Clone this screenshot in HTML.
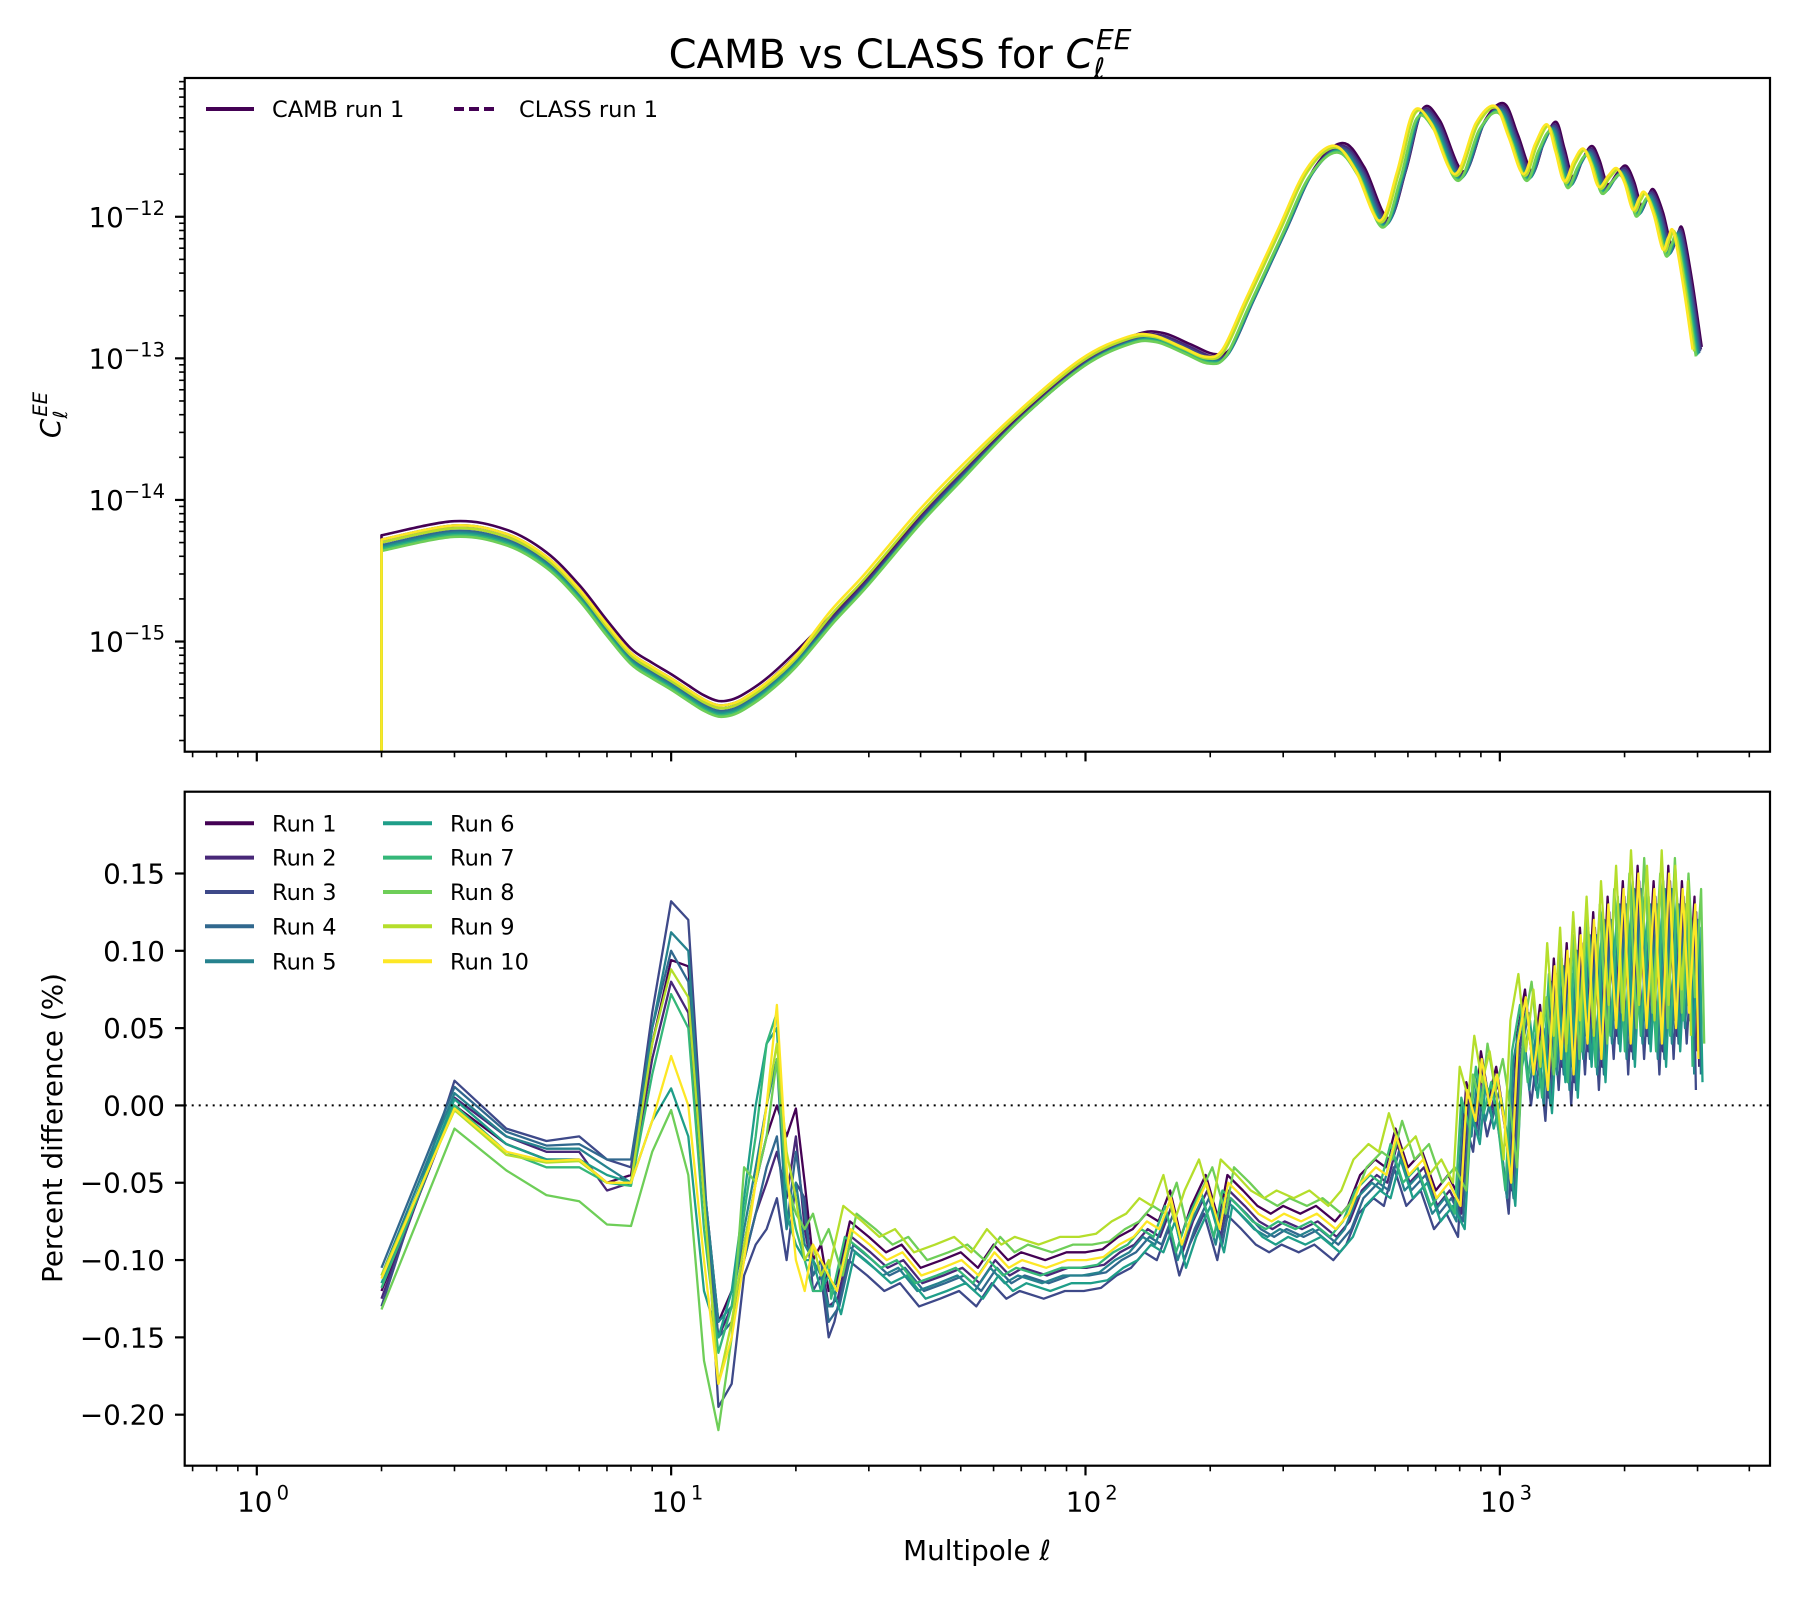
<!DOCTYPE html>
<html><head><meta charset="utf-8"><title>CAMB vs CLASS for C_l^EE</title>
<style>
html,body{margin:0;padding:0;background:#fff;}
svg{display:block;font-family:"DejaVu Sans","Liberation Sans",sans-serif;}
</style></head>
<body>
<svg id="chart" width="1800" height="1600" viewBox="0 0 1800 1600" xmlns="http://www.w3.org/2000/svg">
<rect x="0" y="0" width="1800" height="1600" fill="#fff"/>
<text x="900" y="68" text-anchor="middle" font-size="40">CAMB vs CLASS for <tspan font-style="italic">C</tspan><tspan font-style="italic" font-size="28" dy="10">ℓ</tspan><tspan font-style="italic" font-size="28" dx="-9" dy="-29">EE</tspan></text>
<g id="topPanel"></g>
<g id="botPanel"></g>
</svg>
<script>
// ---- data ----
const runLabels = ["Run 1","Run 2","Run 3","Run 4","Run 5","Run 6","Run 7","Run 8","Run 9","Run 10"];
const runColors = ["#440154","#482878","#3e4989","#31688e","#26828e","#1f9e89","#35b779","#6ece58","#b5de2b","#fde725"];
// upper panel base spectrum (ell, log10 Cl)
const clEll = [2,3,4,5,6,7,8,9,10,11,12,13,14,15,17,20,25,30,40,50,70,100,130,150,175,200,220,250,300,350,408,460,526,580,636,700,800,900,1000,1080,1170,1250,1335,1400,1470,1550,1630,1700,1780,1880,1970,2060,2150,2230,2300,2420,2540,2620,2700,2850,3000];
const clLog = [-14.3,-14.2,-14.26,-14.42,-14.65,-14.9,-15.1,-15.2,-15.28,-15.36,-15.43,-15.47,-15.46,-15.42,-15.31,-15.12,-14.8,-14.55,-14.12,-13.82,-13.4,-13.02,-12.86,-12.85,-12.93,-13.0,-12.95,-12.6,-12.1,-11.68,-11.51,-11.68,-12.04,-11.7,-11.27,-11.35,-11.71,-11.35,-11.23,-11.45,-11.71,-11.5,-11.36,-11.55,-11.76,-11.62,-11.53,-11.63,-11.8,-11.72,-11.67,-11.78,-11.96,-11.88,-11.84,-12.0,-12.24,-12.16,-12.12,-12.5,-12.95];
const clRunShift = [0.010,0.008,0.006,0.004,0.002,0.0,-0.002,-0.004,-0.008,-0.012];
const clRunOffset = [0.05,0.02,0.0,-0.02,-0.03,-0.04,-0.05,-0.06,0.0,0.02];
// lower panel: low-ell values (ell 2..24) per run
const lowEll = [2,3,4,5,6,7,8,9,10,11,12,13,14,15,16,17,18,19,20,21,22,23,24];
const lowRun1 = [-0.12,0.0,-0.025,-0.035,-0.035,-0.05,-0.045,0.04,0.094,0.09,-0.05,-0.14,-0.12,-0.09,-0.05,-0.02,0.0,-0.02,-0.002,-0.05,-0.1,-0.09,-0.12];
const lowRun2 = [-0.125,0.005,-0.02,-0.03,-0.03,-0.055,-0.05,0.03,0.08,0.06,-0.06,-0.15,-0.13,-0.1,-0.07,-0.05,-0.03,-0.06,-0.02,-0.08,-0.11,-0.1,-0.13];
const lowRun3 = [-0.13,0.016,-0.015,-0.023,-0.02,-0.035,-0.04,0.06,0.132,0.12,-0.04,-0.195,-0.18,-0.11,-0.09,-0.08,-0.06,-0.1,-0.05,-0.06,-0.12,-0.11,-0.15];
const lowRun4 = [-0.105,0.012,-0.017,-0.026,-0.025,-0.035,-0.035,0.05,0.1,0.08,-0.06,-0.15,-0.14,-0.1,-0.07,-0.04,-0.02,-0.08,-0.03,-0.07,-0.11,-0.1,-0.14];
const lowRun5 = [-0.11,0.008,-0.02,-0.028,-0.028,-0.04,-0.05,0.05,0.112,0.1,-0.05,-0.14,-0.13,-0.08,-0.04,0.0,0.03,-0.08,-0.05,-0.09,-0.1,-0.11,-0.13];
const lowRun6 = [-0.115,0.004,-0.025,-0.035,-0.035,-0.045,-0.05,-0.01,0.011,-0.02,-0.12,-0.15,-0.12,-0.06,0.0,0.04,0.05,-0.07,-0.09,-0.1,-0.1,-0.12,-0.11];
const lowRun7 = [-0.118,0.0,-0.03,-0.04,-0.04,-0.05,-0.052,0.02,0.072,0.05,-0.08,-0.16,-0.13,-0.07,-0.02,0.04,0.06,-0.05,-0.08,-0.1,-0.12,-0.12,-0.1];
const lowRun8 = [-0.132,-0.015,-0.042,-0.058,-0.062,-0.077,-0.078,-0.03,-0.003,-0.045,-0.165,-0.21,-0.15,-0.04,-0.05,-0.02,0.03,-0.05,-0.07,-0.08,-0.07,-0.09,-0.08];
const lowRun9 = [-0.11,-0.003,-0.032,-0.037,-0.036,-0.05,-0.05,0.04,0.088,0.07,-0.06,-0.18,-0.14,-0.09,-0.05,0.0,0.04,-0.03,-0.06,-0.1,-0.09,-0.11,-0.1];
const lowRun10 = [-0.112,-0.002,-0.03,-0.036,-0.035,-0.05,-0.05,-0.01,0.032,0.0,-0.1,-0.18,-0.15,-0.1,-0.05,0.0,0.065,-0.04,-0.1,-0.12,-0.09,-0.1,-0.11];
const lowRuns = [lowRun1,lowRun2,lowRun3,lowRun4,lowRun5,lowRun6,lowRun7,lowRun8,lowRun9,lowRun10];
// lower panel: high-ell shared shape
const highEll = [25,27,30,33,36,40,45,50,55,60,65,70,80,90,100,110,120,130,140,150,160,170,180,195,210,220,240,260,280,300,330,360,400,430,460,500,530,560,600,650,700,750,800,830,870,900,940,980,1020,1060,1100,1150,1200,1250,1300,1350,1400,1450,1500,1560,1620,1680,1750,1820,1900,1980,2060,2150,2250,2350,2450,2550,2650,2750,2850,2950,3000];
const highVal = [-0.12,-0.08,-0.09,-0.1,-0.095,-0.11,-0.105,-0.1,-0.11,-0.095,-0.105,-0.1,-0.105,-0.1,-0.1,-0.098,-0.09,-0.085,-0.075,-0.08,-0.06,-0.09,-0.07,-0.05,-0.08,-0.05,-0.06,-0.07,-0.075,-0.07,-0.075,-0.07,-0.08,-0.07,-0.05,-0.04,-0.045,-0.02,-0.045,-0.035,-0.06,-0.05,-0.065,0.01,-0.01,0.03,0.0,0.02,-0.01,-0.05,0.04,0.07,0.02,0.06,0.01,0.09,0.03,0.1,0.02,0.11,0.04,0.12,0.03,0.13,0.05,0.14,0.04,0.15,0.05,0.14,0.04,0.15,0.05,0.14,0.06,0.13,0.03];
const highRunOffset = [0.005,-0.005,-0.02,-0.01,-0.01,-0.015,-0.005,0.01,0.015,0.0];
const highRunShift = [0,0.004,-0.004,0.008,-0.008,0.012,-0.012,0.016,-0.016,0.002];
const yTopTicks = [-15,-14,-13,-12];
const yBotTicks = [0.15,0.10,0.05,0.00,-0.05,-0.10,-0.15,-0.20];
const yBotTickLabels = ["0.15","0.10","0.05","0.00","−0.05","−0.10","−0.15","−0.20"];
const xTicks = [0,1,2,3];

// ---- layout ----
const NS="http://www.w3.org/2000/svg";
const L=184.7,R=1770;
const T1=78,B1=751.7,T2=791.7,B2=1465.7;
const lxMin=-0.174,lxMax=3.652;
const ly1Min=-15.778,ly1Max=-11.02;
const y2Min=-0.233,y2Max=0.2029;
const X=l=>L+(Math.log10(l)-lxMin)/(lxMax-lxMin)*(R-L);
const XL=lg=>L+(lg-lxMin)/(lxMax-lxMin)*(R-L);
const Y1=lg=>B1-(lg-ly1Min)/(ly1Max-ly1Min)*(B1-T1);
const Y2=v=>B2-(v-y2Min)/(y2Max-y2Min)*(B2-T2);
function mk(tag,attrs,parent){const e=document.createElementNS(NS,tag);for(const k in attrs)e.setAttribute(k,attrs[k]);parent.appendChild(e);return e;}
const topG=document.getElementById('topPanel'),botG=document.getElementById('botPanel');

const defs=mk('defs',{},document.getElementById('chart'));
const c1=mk('clipPath',{id:'c1'},defs);mk('rect',{x:L,y:T1,width:R-L,height:B1-T1},c1);
const c2=mk('clipPath',{id:'c2'},defs);mk('rect',{x:L,y:T2,width:R-L,height:B2-T2},c2);

function smoothSegs(pts){
  let d='';
  for(let i=0;i<pts.length-1;i++){
    const p0=pts[Math.max(0,i-1)],p1=pts[i],p2=pts[i+1],p3=pts[Math.min(pts.length-1,i+2)];
    const t=1/6;
    const c1x=p1[0]+(p2[0]-p0[0])*t,c1y=p1[1]+(p2[1]-p0[1])*t;
    const c2x=p2[0]-(p3[0]-p1[0])*t,c2y=p2[1]-(p3[1]-p1[1])*t;
    d+=`C${c1x.toFixed(1)},${c1y.toFixed(1)} ${c2x.toFixed(1)},${c2y.toFixed(1)} ${p2[0].toFixed(1)},${p2[1].toFixed(1)}`;
  }
  return d;
}

// ---- upper series ----
const g1=mk('g',{'clip-path':'url(#c1)'},topG);
for(let r=0;r<10;r++){
  const pts=clEll.map((e,i)=>[XL(Math.log10(e)+(i>15?clRunShift[r]:0)),Y1(clLog[i]+(i<20?clRunOffset[r]:clRunOffset[r]*0.6))]);
  const d=`M${pts[0][0].toFixed(1)},${(B1+5).toFixed(1)}L${pts[0][0].toFixed(1)},${pts[0][1].toFixed(1)}`+smoothSegs(pts);
  const p=mk('path',{d:d,fill:'none',stroke:runColors[r],'stroke-width':2.6,'stroke-linejoin':'round'},g1);
  
  
}

// ---- lower series ----
const g2=mk('g',{'clip-path':'url(#c2)'},botG);
const zl=mk('line',{x1:L,x2:R,y1:Y2(0),y2:Y2(0),stroke:'#000','stroke-width':2,'stroke-dasharray':'2,5'},botG);


for(let r=0;r<10;r++){
  const pts=[];
  lowEll.forEach((e,i)=>pts.push([X(e),Y2(lowRuns[r][i])]));
  highEll.forEach((e,i)=>pts.push([XL(Math.log10(e)+highRunShift[r]),Y2(highVal[i]+highRunOffset[r])]));
  const p=mk('path',{d:'M'+pts.map(q=>q[0].toFixed(1)+','+q[1].toFixed(1)).join('L'),fill:'none',stroke:runColors[r],'stroke-width':2.3,'stroke-linejoin':'round'},g2);
  
  
}

// ---- axes ----
function frame(parent,T,B,name){
  const f=mk('rect',{x:L,y:T,width:R-L,height:B-T,fill:'none',stroke:'#000','stroke-width':2.2},parent);
  
  
}
frame(topG,T1,B1,'top-axes-frame');frame(botG,T2,B2,'bottom-axes-frame');
function xticks(parent,B,labels){
  for(let dec=-1;dec<=3;dec++){
    for(let m=1;m<=9;m++){
      const lg=dec+Math.log10(m);if(lg<lxMin||lg>lxMax)continue;
      const x=XL(lg),len=m===1?9.7:5.6;
      mk('line',{x1:x,x2:x,y1:B,y2:B+len,stroke:'#000','stroke-width':m===1?2.2:1.6},parent);
    }
  }
  if(labels) xTicks.forEach(t=>{
    const tx=mk('text',{x:XL(t)-2,y:B+46,'text-anchor':'middle','font-size':27.8},parent);
    
    
    tx.textContent='10';
    const s=mk('tspan',{'font-size':19.5,dy:-12,x:XL(t)+26},tx);s.textContent=String(t);
  });
}
xticks(topG,B1,false);xticks(botG,B2,true);
for(let dec=-16;dec<=-11;dec++){
  for(let m=1;m<=9;m++){
    const lg=dec+Math.log10(m);if(lg<ly1Min||lg>ly1Max)continue;
    const y=Y1(lg),len=m===1?9.7:5.6;
    mk('line',{x1:L-len,x2:L,y1:y,y2:y,stroke:'#000','stroke-width':m===1?2.2:1.6},topG);
  }
}
yTopTicks.forEach(t=>{
  const y=Y1(t);
  const tx=mk('text',{x:165,y:y+10,'text-anchor':'end','font-size':27.8},topG);
  
  
  tx.textContent='10';
  const s=mk('tspan',{'font-size':19.5,dy:-12},tx);s.textContent='−'+Math.abs(t);
});
yBotTicks.forEach((t,i)=>{
  const y=Y2(t);
  mk('line',{x1:L-9.7,x2:L,y1:y,y2:y,stroke:'#000','stroke-width':2.2},botG);
  const tx=mk('text',{x:165,y:y+10,'text-anchor':'end','font-size':27.8},botG);
  
  
  tx.textContent=yBotTickLabels[i];
});
</script>
<svg style="position:absolute;left:0;top:0" width="1800" height="1600" viewBox="0 0 1800 1600" xmlns="http://www.w3.org/2000/svg" font-family="DejaVu Sans, Liberation Sans, sans-serif">
<g transform="translate(60,415) rotate(-90)">
<text x="0" y="0" text-anchor="middle" font-size="27.8" font-style="italic">C<tspan font-size="19.5" dy="7">ℓ</tspan><tspan font-size="19.5" dx="-6" dy="-20">EE</tspan></text>
</g>
<text transform="translate(62,1128) rotate(-90)" text-anchor="middle" font-size="27.8">Percent difference (%)</text>
<text x="977" y="1560" text-anchor="middle" font-size="27.8">Multipole <tspan font-style="italic">ℓ</tspan></text>
<g font-size="22.5">
<g><line x1="206" x2="254" y1="109" y2="109" stroke="#440154" stroke-width="4"/><text x="272" y="117">CAMB run 1</text></g>
<g><line x1="454" x2="498" y1="109" y2="109" stroke="#440154" stroke-width="4" stroke-dasharray="10,5"/><text x="519" y="117">CLASS run 1</text></g>
</g>
<g font-size="22.5">
<g><line x1="205" x2="254" y1="823.3" y2="823.3" stroke="#440154" stroke-width="4"/><text x="272" y="831.3">Run 1</text></g>
<g><line x1="205" x2="254" y1="857.6" y2="857.6" stroke="#482878" stroke-width="4"/><text x="272" y="865.6">Run 2</text></g>
<g><line x1="205" x2="254" y1="892" y2="892" stroke="#3e4989" stroke-width="4"/><text x="272" y="900">Run 3</text></g>
<g><line x1="205" x2="254" y1="926.3" y2="926.3" stroke="#31688e" stroke-width="4"/><text x="272" y="934.3">Run 4</text></g>
<g><line x1="205" x2="254" y1="961.3" y2="961.3" stroke="#26828e" stroke-width="4"/><text x="272" y="969.3">Run 5</text></g>
<g><line x1="383" x2="432" y1="823.3" y2="823.3" stroke="#1f9e89" stroke-width="4"/><text x="450" y="831.3">Run 6</text></g>
<g><line x1="383" x2="432" y1="857.6" y2="857.6" stroke="#35b779" stroke-width="4"/><text x="450" y="865.6">Run 7</text></g>
<g><line x1="383" x2="432" y1="892" y2="892" stroke="#6ece58" stroke-width="4"/><text x="450" y="900">Run 8</text></g>
<g><line x1="383" x2="432" y1="926.3" y2="926.3" stroke="#b5de2b" stroke-width="4"/><text x="450" y="934.3">Run 9</text></g>
<g><line x1="383" x2="432" y1="961.3" y2="961.3" stroke="#fde725" stroke-width="4"/><text x="450" y="969.3">Run 10</text></g>
</g>
</svg>
</body></html>
